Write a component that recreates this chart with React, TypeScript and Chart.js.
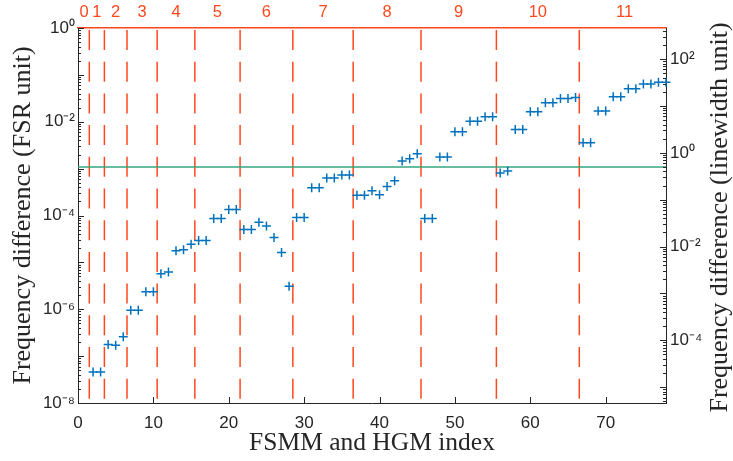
import React, { useEffect, useRef } from 'react';
import { Chart, registerables } from 'chart.js';
Chart.register(...registerables);

// Mode index (FSMM and HGM index)
const modeIndex = [
  2, 3, 4, 5, 6, 7, 8, 9, 10, 11, 12, 13, 14, 15, 16, 17, 18, 19, 20, 21,
  22, 23, 24, 25, 26, 27, 28, 29, 30, 31, 32, 33, 34, 35, 36, 37, 38, 39, 40,
  41, 42, 43, 44, 45, 46, 47, 48, 49, 50, 51, 52, 53, 54, 55, 56, 57, 58, 59,
  60, 61, 62, 63, 64, 65, 66, 67, 68, 69, 70, 71, 72, 73, 74, 75, 76, 77, 78,
];
// Frequency difference (FSR unit)
const freqDiff = [
  4.6e-8, 4.6e-8, 1.78e-7, 1.7e-7, 2.6e-7, 9.5e-7, 9.5e-7, 2.35e-6, 2.35e-6,
  5.7e-6, 6.2e-6, 1.76e-5, 1.85e-5, 2.45e-5, 2.93e-5, 2.93e-5, 8.65e-5, 8.65e-5,
  1.35e-4, 1.35e-4, 5.0e-5, 5.0e-5, 7.2e-5, 6.0e-5, 3.4e-5, 1.62e-5, 3.1e-6,
  9.1e-5, 9.1e-5, 3.9e-4, 3.9e-4, 6.3e-4, 6.3e-4, 7.3e-4, 7.3e-4, 2.72e-4,
  2.72e-4, 3.37e-4, 2.77e-4, 4.17e-4, 5.5e-4, 1.45e-3, 1.62e-3, 2.08e-3,
  8.6e-5, 8.6e-5, 1.78e-3, 1.78e-3, 6.1e-3, 6.1e-3, 1.03e-2, 1.03e-2, 1.28e-2,
  1.28e-2, 8.1e-4, 8.9e-4, 6.85e-3, 6.85e-3, 1.64e-2, 1.64e-2, 2.55e-2,
  2.55e-2, 3.15e-2, 3.15e-2, 3.3e-2, 3.56e-3, 3.56e-3, 1.69e-2, 1.69e-2,
  3.42e-2, 3.42e-2, 5.07e-2, 5.07e-2, 6.4e-2, 6.4e-2, 7.0e-2, 7.0e-2,
];
const groupBoundaries = [1.5, 3.5, 6.5, 10.5, 15.5, 21.5, 28.5, 36.5, 45.5, 55.5, 66.5];
const groupLabels = ['0', '1', '2', '3', '4', '5', '6', '7', '8', '9', '10', '11'];
const groupCenters = [0.8, 2.5, 5, 8.5, 13, 18.5, 25, 32.5, 41, 50.5, 61, 72.5];
const thresholdFSR = 1.087e-3;
const fsrPerLinewidth = 460;
const xTicks = [0, 10, 20, 30, 40, 50, 60, 70];
const leftTickExps = [-8, -6, -4, -2, 0];
const rightTickExps = [-4, -2, 0, 2];
const rightTitle = 'Frequency difference (linewidth unit)';

const X_MIN = 0;
const X_MAX = 78;
const Y_MIN = 1e-8;
const Y_MAX = 1;

const RED = 'rgb(252,72,30)';
const BLUE = '#0072BD';
const GREEN = '#36A47E';
const AXIS = '#262626';
const TITLE_FONT_FAMILY = '"Liberation Serif", "Times New Roman", serif';
const TITLE_SIZE = 26;

const SUP: Record<string, string> = {
  '-': '\u207B', '0': '\u2070', '1': '\u00B9', '2': '\u00B2', '3': '\u00B3',
  '4': '\u2074', '5': '\u2075', '6': '\u2076', '7': '\u2077', '8': '\u2078', '9': '\u2079',
};
const pow10Label = (e: number) => '10' + String(e).split('').map((c) => SUP[c] || c).join('');

const innerTicks = {
  id: 'innerTicks',
  afterDatasetsDraw(chart: any) {
    const { ctx, chartArea, scales } = chart;
    ctx.save();
    ctx.strokeStyle = AXIS;
    ctx.lineWidth = 1;
    const seg = (x1: number, y1: number, x2: number, y2: number) => {
      ctx.beginPath();
      ctx.moveTo(x1, y1);
      ctx.lineTo(x2, y2);
      ctx.stroke();
    };
    const yl = scales.y;
    const yr = scales.y2;
    for (let k = -9; k <= 3; k++) {
      for (let m = 1; m <= 9; m++) {
        const v = m * Math.pow(10, k);
        if (v >= yl.min * 0.999 && v <= yl.max * 1.001) {
          const py = Math.round(yl.getPixelForValue(v)) + 0.5;
          seg(chartArea.left, py, chartArea.left + (m === 1 ? 6 : 3), py);
        }
        if (v >= yr.min * 0.999 && v <= yr.max * 1.001) {
          const py = Math.round(yr.getPixelForValue(v)) + 0.5;
          seg(chartArea.right, py, chartArea.right - (m === 1 ? 6 : 3), py);
        }
      }
    }
    const xs = scales.x;
    for (const t of xTicks) {
      const px = Math.round(xs.getPixelForValue(t)) + 0.5;
      seg(px, chartArea.bottom, px, chartArea.bottom - 6);
    }
    ctx.restore();
  },
  afterDraw(chart: any) {
    // right-axis title, reading bottom-to-top as in the reference
    const { ctx, chartArea } = chart;
    ctx.save();
    ctx.fillStyle = AXIS;
    ctx.font = `${TITLE_SIZE}px ${TITLE_FONT_FAMILY}`;
    ctx.textAlign = 'center';
    ctx.textBaseline = 'alphabetic';
    ctx.translate(727, (chartArea.top + chartArea.bottom) / 2 + 2);
    ctx.rotate(-Math.PI / 2);
    ctx.fillText(rightTitle, 0, 0);
    ctx.restore();
  },
};

export default function App() {
  const ref = useRef<HTMLCanvasElement>(null);
  useEffect(() => {
    document.body.style.margin = '0';
    const datasets: any[] = [
      {
        label: 'diff',
        data: modeIndex.map((x, i) => ({ x, y: freqDiff[i] })),
        showLine: false,
        pointStyle: 'cross',
        pointRadius: 4.5,
        borderColor: BLUE,
        backgroundColor: BLUE,
        borderWidth: 1.5,
        clip: false,
        yAxisID: 'y',
        xAxisID: 'x',
      },
      {
        label: 'threshold',
        data: [
          { x: X_MIN, y: thresholdFSR },
          { x: X_MAX, y: thresholdFSR },
        ],
        showLine: true,
        pointRadius: 0,
        borderColor: GREEN,
        borderWidth: 1.5,
        yAxisID: 'y',
        xAxisID: 'x',
      },
      ...groupBoundaries.map((b) => ({
        label: 'b' + b,
        data: [
          { x: b, y: Y_MAX },
          { x: b, y: Y_MIN },
        ],
        showLine: true,
        pointRadius: 0,
        borderColor: RED,
        borderWidth: 1.5,
        borderDash: [20, 11.7],
        borderDashOffset: -2,
        yAxisID: 'y',
        xAxisID: 'x',
      })),
    ];
    const tickFont = { family: '"Liberation Sans", Arial, sans-serif', size: 17 };
    const titleFont = { family: TITLE_FONT_FAMILY, size: TITLE_SIZE };
    const chart = new Chart(ref.current!, {
      type: 'scatter',
      data: { datasets },
      plugins: [innerTicks],
      options: {
        animation: false,
        responsive: false,
        devicePixelRatio: 1,
        layout: { padding: 0 },
        plugins: { legend: { display: false }, tooltip: { enabled: false } },
        scales: {
          x: {
            type: 'linear',
            position: 'bottom',
            min: X_MIN,
            max: X_MAX,
            afterBuildTicks: (s: any) => {
              s.ticks = xTicks.map((v) => ({ value: v }));
            },
            afterFit: (s: any) => {
              s.height = 58;
            },
            grid: { display: false, drawTicks: false },
            border: { display: true, color: AXIS, width: 1 },
            ticks: { color: AXIS, font: tickFont, padding: 10, maxRotation: 0, autoSkip: false },
            title: {
              display: true,
              text: 'FSMM and HGM index',
              color: AXIS,
              font: { family: TITLE_FONT_FAMILY, size: 25.5 },
              padding: { top: 0, bottom: 2 },
            },
          },
          xTop: {
            type: 'linear',
            position: 'top',
            min: X_MIN,
            max: X_MAX,
            afterBuildTicks: (s: any) => {
              s.ticks = groupCenters.map((v) => ({ value: v }));
            },
            afterFit: (s: any) => {
              s.height = 28;
            },
            grid: { display: false, drawTicks: false },
            border: { display: true, color: RED, width: 1.5 },
            ticks: {
              color: RED,
              font: { family: '"Liberation Sans", Arial, sans-serif', size: 16.5 },
              padding: 6,
              maxRotation: 0,
              autoSkip: false,
              callback: (_v: any, i: number) => groupLabels[i],
            },
          },
          y: {
            type: 'logarithmic',
            position: 'left',
            min: Y_MIN,
            max: Y_MAX,
            afterBuildTicks: (s: any) => {
              s.ticks = leftTickExps.map((e) => ({ value: Math.pow(10, e) }));
            },
            afterFit: (s: any) => {
              s.width = 78;
            },
            grid: { display: false, drawTicks: false },
            border: { display: true, color: AXIS, width: 1 },
            ticks: {
              color: AXIS,
              font: tickFont,
              padding: 3,
              autoSkip: false,
              callback: (_v: any, i: number) => pow10Label(leftTickExps[i]),
            },
            title: {
              display: true,
              text: 'Frequency difference (FSR unit)',
              color: AXIS,
              font: titleFont,
              padding: { top: 8, bottom: 0 },
            },
          },
          y2: {
            type: 'logarithmic',
            position: 'right',
            min: Y_MIN * fsrPerLinewidth,
            max: Y_MAX * fsrPerLinewidth,
            afterBuildTicks: (s: any) => {
              s.ticks = rightTickExps.map((e) => ({ value: Math.pow(10, e) }));
            },
            afterFit: (s: any) => {
              s.width = 67;
            },
            grid: { display: false, drawTicks: false },
            border: { display: true, color: AXIS, width: 1 },
            ticks: {
              color: AXIS,
              font: tickFont,
              padding: 4,
              autoSkip: false,
              callback: (_v: any, i: number) => pow10Label(rightTickExps[i]),
            },
          },
        },
      } as any,
    });
    return () => chart.destroy();
  }, []);
  return <canvas ref={ref} width={733} height={461} style={{ display: 'block' }} />;
}
